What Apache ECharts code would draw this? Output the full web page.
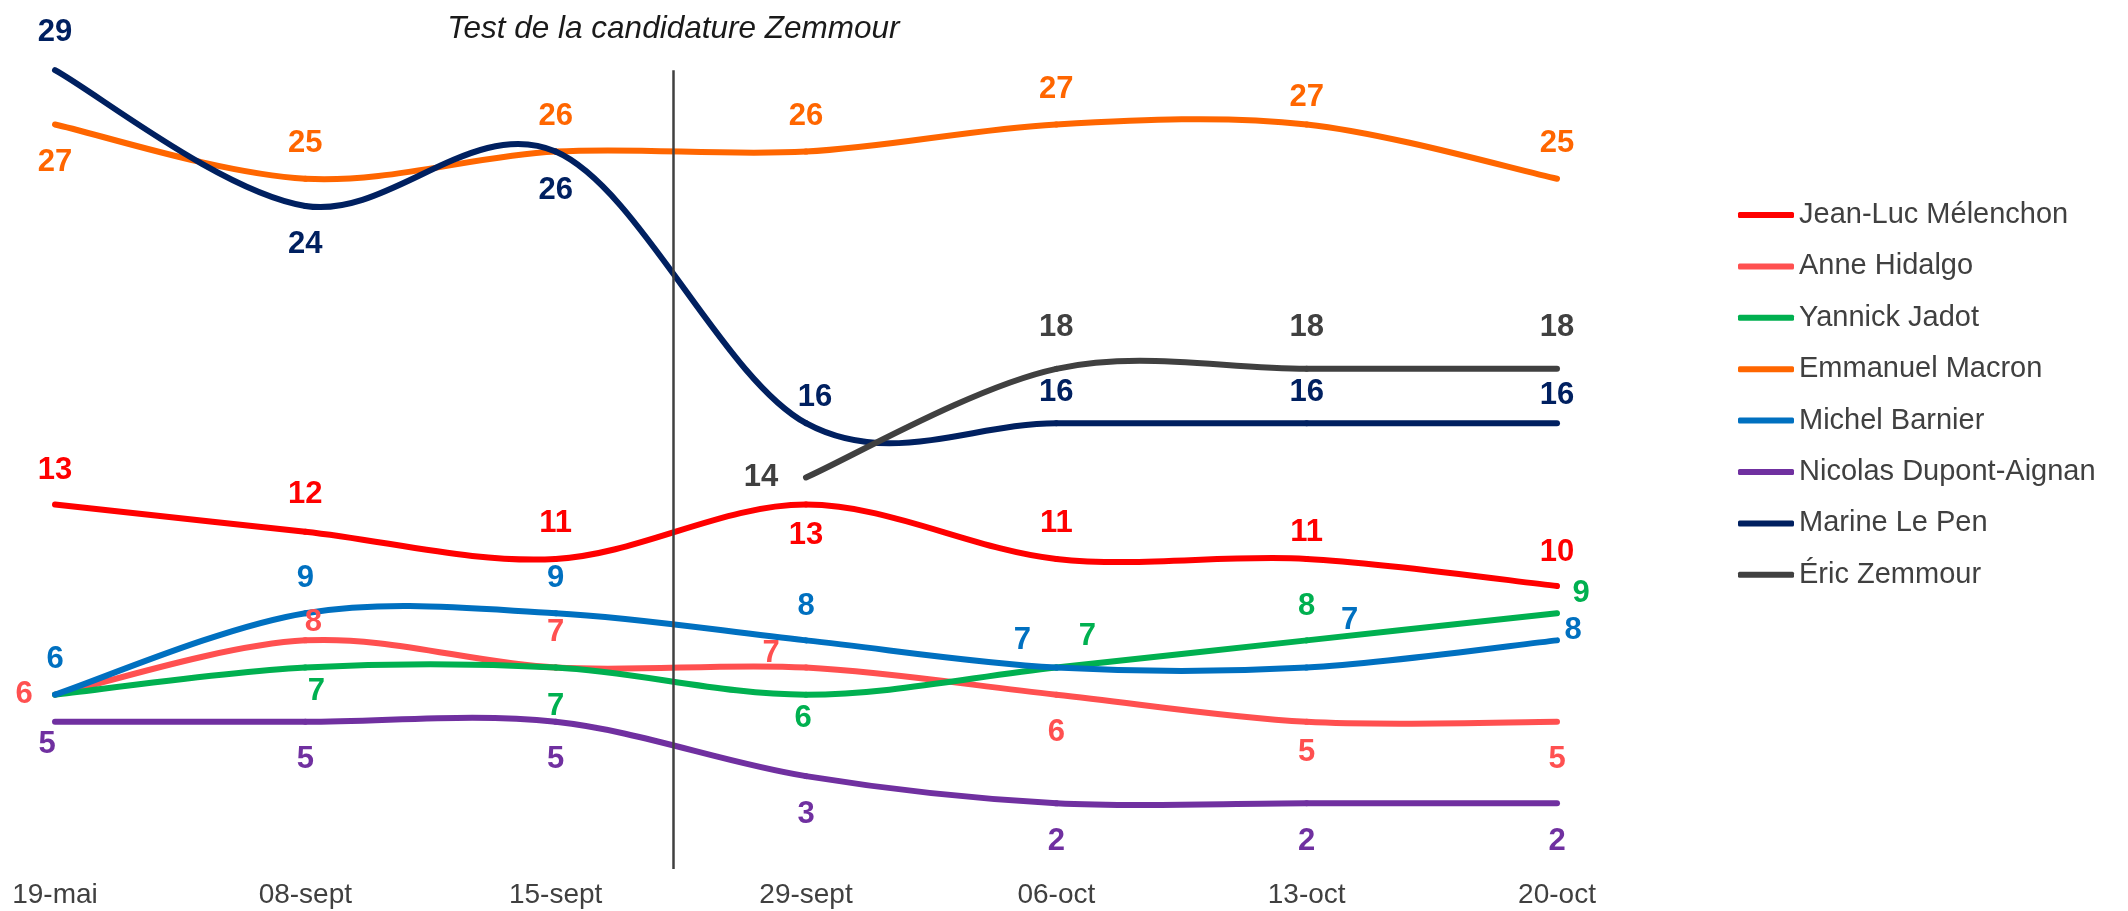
<!DOCTYPE html>
<html>
<head>
<meta charset="utf-8">
<title>Intentions de vote</title>
<script src="https://cdn.jsdelivr.net/npm/echarts@6/dist/echarts.min.js"></script>
<style>
  html, body { margin: 0; padding: 0; background: #fff; }
  #chart { width: 2128px; height: 911px; }
</style>
</head>
<body>
<div id="chart"></div>
<script>
// dates des vagues
const dates = ["19-mai", "08-sept", "15-sept", "29-sept", "06-oct", "13-oct", "20-oct"];

// intentions de vote (%)
const melenchon = [13, 12, 11, 13, 11, 11, 10];
const hidalgo = [6, 8, 7, 7, 6, 5, 5];
const jadot = [6, 7, 7, 6, 7, 8, 9];
const macron = [27, 25, 26, 26, 27, 27, 25];
const barnier = [6, 9, 9, 8, 7, 7, 8];
const dupontAignan = [5, 5, 5, 3, 2, 2, 2];
const lePen = [29, 24, 26, 16, 16, 16, 16];
const zemmour = [null, null, null, 14, 18, 18, 18];

// trait vertical : entre 15-sept et 29-sept
const zemmourTestAt = 2.47;
const zemmourTestLabel = "Test de la candidature Zemmour";

const FONT = 'Arial, "Liberation Sans", sans-serif';
const LINE_WIDTH = 6;

// décalage des étiquettes par point (null = pas d'étiquette)
const offsetsMelenchon = [[0, -34], [0, -37], [0, -35], [0, 31], [0, -35], [0, -26], [0, -34]];
const offsetsHidalgo = [[-31, 0], [8, -18], [0, -35], [-35, -14], [0, 38], [0, 31], [0, 38]];
const offsetsJadot = [null, [11, 24], [0, 39], [-3, 24], [31, -31], [0, -34], [24, -20]];
const offsetsMacron = [[0, 38], [0, -35], [0, -35], [0, -35], [0, -35], [0, -27], [0, -35]];
const offsetsBarnier = [[0, -35], [0, -35], [0, -35], [0, -34], [-34, -27], [43, -47], [16, -10]];
const offsetsDupont = [[-8, 23], [0, 38], [0, 38], [0, 38], [0, 38], [0, 38], [0, 38]];
const offsetsLePen = [[0, -38], [0, 39], [0, 39], [9, -26], [0, -31], [0, -31], [0, -28]];
const offsetsZemmour = [null, null, null, [-45, 0], [0, -41], [0, -41], [0, -41]];

// série "line" : sert aux étiquettes et à la légende (trait invisible)
const makeLabels = (name, values, color, offsets) => {
  const data = [];
  values.forEach((v, i) => {
    if (v === null) return;
    const off = offsets[i];
    data.push({
      value: [i, v],
      label: off ? { offset: off } : { show: false },
    });
  });
  return {
    name: name,
    type: "line",
    symbol: "circle",
    symbolSize: 0,
    showSymbol: true,
    z: 5,
    itemStyle: { color: color },
    lineStyle: { color: color, opacity: 0 },
    label: {
      show: true,
      position: "inside",
      color: color,
      fontSize: 31,
      fontWeight: "bold",
      fontFamily: FONT,
      formatter: (p) => p.value[1],
    },
    emphasis: { disabled: true },
    data: data,
  };
};

// courbe lissée type Excel (Catmull-Rom), un segment de Bézier par intervalle
const makeCurve = (name, values, color) => {
  const idx = values.map((v, i) => (v === null ? -1 : i)).filter((i) => i >= 0);
  const first = idx[0];
  const last = idx[idx.length - 1];
  const segs = idx.filter((i) => i < last).map((i) => [i, values[i]]);
  return {
    name: name,
    type: "custom",
    silent: true,
    z: 2,
    data: segs,
    renderItem: (params, api) => {
      const i = api.value(0);
      const at = (k) => {
        const kk = Math.min(Math.max(k, first), last);
        return api.coord([kk, values[kk]]);
      };
      const p0 = at(i - 1);
      const p1 = at(i);
      const p2 = at(i + 1);
      const p3 = at(i + 2);
      return {
        type: "bezierCurve",
        shape: {
          x1: p1[0],
          y1: p1[1],
          x2: p2[0],
          y2: p2[1],
          cpx1: p1[0] + (p2[0] - p0[0]) / 6,
          cpy1: p1[1] + (p2[1] - p0[1]) / 6,
          cpx2: p2[0] - (p3[0] - p1[0]) / 6,
          cpy2: p2[1] - (p3[1] - p1[1]) / 6,
        },
        style: { stroke: color, lineWidth: LINE_WIDTH, lineCap: "round", fill: "none" },
      };
    },
  };
};

const candidates = [
  ["Jean-Luc Mélenchon", melenchon, "#FF0000", offsetsMelenchon],
  ["Anne Hidalgo", hidalgo, "#FF5050", offsetsHidalgo],
  ["Yannick Jadot", jadot, "#00B050", offsetsJadot],
  ["Emmanuel Macron", macron, "#FF6600", offsetsMacron],
  ["Michel Barnier", barnier, "#0070C0", offsetsBarnier],
  ["Nicolas Dupont-Aignan", dupontAignan, "#7030A0", offsetsDupont],
  ["Marine Le Pen", lePen, "#002060", offsetsLePen],
  ["Éric Zemmour", zemmour, "#404040", offsetsZemmour],
];

const labelSeries = candidates.map((c) => makeLabels(c[0], c[1], c[2], c[3]));
const curveSeries = candidates.map((c) => makeCurve(c[0], c[1], c[2]));

// trait vertical + titre
labelSeries[7].markLine = {
  silent: true,
  animation: false,
  symbol: ["none", "none"],
  lineStyle: { color: "#404040", width: 2.5, type: "solid", opacity: 1 },
  label: {
    show: true,
    position: "end",
    formatter: zemmourTestLabel,
    fontSize: 31.5,
    fontStyle: "italic",
    fontFamily: FONT,
    color: "#1a1a1a",
    distance: 25,
  },
  emphasis: { disabled: true },
  data: [[{ coord: [zemmourTestAt, -0.42] }, { coord: [zemmourTestAt, 29] }]],
};

const option = {
  animation: false,
  backgroundColor: "#fff",
  grid: {
    left: 55,
    right: 571,
    top: 43,
    bottom: 42,
    outerBoundsMode: "none",
  },
  legend: {
    orient: "vertical",
    left: 1733,
    top: 195,
    icon: "roundRect",
    itemWidth: 56,
    itemHeight: 6,
    itemGap: 21.4,
    textStyle: { fontSize: 29, lineHeight: 30, color: "#404040", fontFamily: FONT },
    data: candidates.map((c) => c[0]),
  },
  xAxis: {
    type: "value",
    min: 0,
    max: 6,
    interval: 1,
    axisLine: { show: false },
    axisTick: { show: false },
    splitLine: { show: false },
    axisLabel: {
      formatter: (v) => dates[v],
      fontSize: 28,
      fontFamily: FONT,
      color: "#404040",
      margin: 12,
      showMinLabel: true,
      showMaxLabel: true,
    },
  },
  yAxis: {
    type: "value",
    min: -0.42,
    max: 30,
    show: false,
  },
  series: labelSeries.concat(curveSeries),
};

const myChart = echarts.init(document.getElementById("chart"));
myChart.setOption(option);
</script>
</body>
</html>
